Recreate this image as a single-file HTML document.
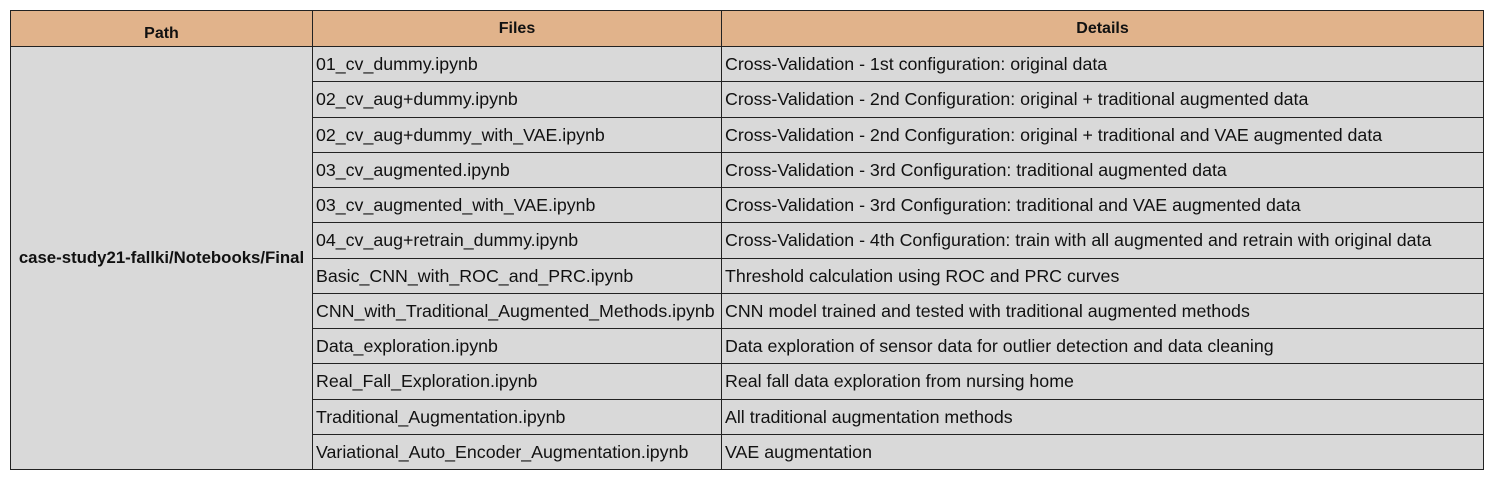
<!DOCTYPE html>
<html><head><meta charset="utf-8"><style>
body{margin:0;width:1491px;height:477px;background:#fff;overflow:hidden;font-family:"Liberation Sans",sans-serif;}
#t{position:absolute;left:10px;top:10px;border-collapse:collapse;table-layout:fixed;}
#t td,#t th{border:1px solid #222;padding:0 0 0 3px;font-size:17.8px;color:#111;white-space:nowrap;overflow:hidden;line-height:20px;}
#t th{background:#e1b38b;font-weight:bold;font-size:16px;text-align:center;padding:0;vertical-align:top;box-sizing:border-box;}
#t td{background:#d9d9d9;height:34.25px;}
#t td.path{font-weight:bold;font-size:16.8px;text-align:center;padding:0;}
</style></head><body>
<table id="t">
<colgroup><col style="width:302px"><col style="width:409px"><col style="width:762px"></colgroup>
<tr style="height:36px"><th style="padding-top:13px">Path</th><th style="padding-top:8px">Files</th><th style="padding-top:8px">Details</th></tr>
<tr><td class="path" rowspan="12">case-study21-fallki/Notebooks/Final</td><td>01_cv_dummy.ipynb</td><td>Cross-Validation - 1st configuration: original data</td></tr>
<tr><td>02_cv_aug+dummy.ipynb</td><td>Cross-Validation - 2nd Configuration: original + traditional augmented data</td></tr>
<tr><td>02_cv_aug+dummy_with_VAE.ipynb</td><td>Cross-Validation - 2nd Configuration: original + traditional and VAE augmented data</td></tr>
<tr><td>03_cv_augmented.ipynb</td><td>Cross-Validation - 3rd Configuration: traditional augmented data</td></tr>
<tr><td>03_cv_augmented_with_VAE.ipynb</td><td>Cross-Validation - 3rd Configuration: traditional and VAE augmented data</td></tr>
<tr><td>04_cv_aug+retrain_dummy.ipynb</td><td>Cross-Validation - 4th Configuration: train with all augmented and retrain with original data</td></tr>
<tr><td>Basic_CNN_with_ROC_and_PRC.ipynb</td><td>Threshold calculation using ROC and PRC curves</td></tr>
<tr><td>CNN_with_Traditional_Augmented_Methods.ipynb</td><td>CNN model trained and tested with traditional augmented methods</td></tr>
<tr><td>Data_exploration.ipynb</td><td>Data exploration of sensor data for outlier detection and data cleaning</td></tr>
<tr><td>Real_Fall_Exploration.ipynb</td><td>Real fall data exploration from nursing home</td></tr>
<tr><td>Traditional_Augmentation.ipynb</td><td>All traditional augmentation methods</td></tr>
<tr><td>Variational_Auto_Encoder_Augmentation.ipynb</td><td>VAE augmentation</td></tr>
</table>
</body></html>
